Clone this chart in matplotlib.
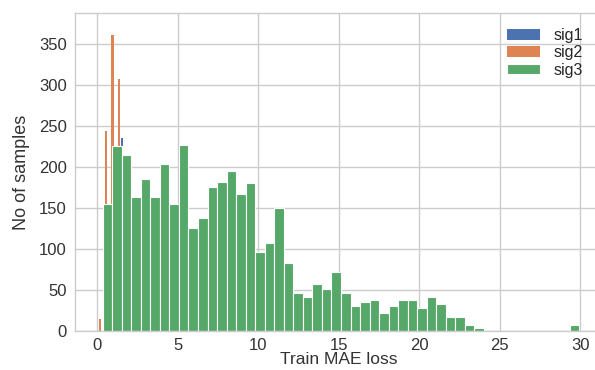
import matplotlib
matplotlib.use('Agg')
import matplotlib.pyplot as plt
import numpy as np

# sig3: 50 equal bins between these limits
sig3_range = (0.35, 29.95)
sig3_counts = [155, 226, 215, 163, 185, 163, 204, 155, 227, 126,
               138, 176, 182, 195, 167, 181, 96, 108, 150, 83,
               47, 42, 58, 52, 72, 46, 31, 36, 38, 22,
               31, 38, 38, 28, 42, 33, 17, 17, 8, 4,
               0, 0, 0, 0, 0, 0, 0, 0, 0, 8]

# sig2 / sig1: only the parts that stick out above sig3 can be read
sig2_x = [0.18, 0.57, 0.96, 1.35]
sig2_counts = [15, 244, 361, 308]
sig1_x = [1.55]
sig1_counts = [235]

plt.style.use('seaborn-v0_8-whitegrid')
plt.rcParams['font.family'] = ['Liberation Sans', 'DejaVu Sans']

fig = plt.figure(figsize=(5.95, 3.7), dpi=100)
# axes runs a little past the right edge of the picture, as in the original
ax = fig.add_axes([0.126, 0.105, 0.888, 0.8587])

edges = np.linspace(sig3_range[0], sig3_range[1], len(sig3_counts) + 1)
centers = (edges[:-1] + edges[1:]) / 2

b1 = ax.bar(sig1_x, sig1_counts, width=0.13, color='#4C72B0', label='sig1')
b2 = ax.bar(sig2_x, sig2_counts, width=0.13, color='#DD8452', label='sig2')
_, _, b3 = ax.hist(centers, bins=edges, weights=sig3_counts, color='#55A868',
                   edgecolor='white', linewidth=0.8, label='sig3')

ax.set_xlim(-1.37, 31.44)
ax.set_ylim(0, 387.4)
ax.set_yticks(range(0, 351, 50))
ax.set_xticks(range(0, 31, 5))
ax.tick_params(labelsize=12, colors='#333333')
ax.tick_params(axis='x', pad=5)
ax.tick_params(axis='y', pad=6)
ax.set_xlabel('Train MAE loss', fontsize=12.5, color='#333333', labelpad=-1)
ax.set_ylabel('No of samples', fontsize=13, color='#333333', labelpad=6)
for s in ax.spines.values():
    s.set_visible(True)
    s.set_color('#cccccc')
ax.grid(True, color='#cccccc', linewidth=1.0)
ax.set_axisbelow(True)

ax.legend([b1, b2, b3], ['sig1', 'sig2', 'sig3'], loc='upper right',
          bbox_to_anchor=(0.988, 1.0),
          fontsize=11.5, frameon=False, handlelength=2.1, handleheight=0.65,
          handletextpad=0.8, labelspacing=0.15, borderaxespad=0.5)

fig.savefig('out.png', dpi=100)
